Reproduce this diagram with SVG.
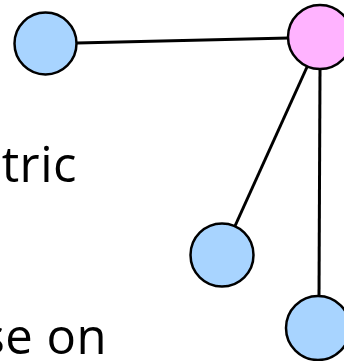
<svg xmlns="http://www.w3.org/2000/svg" width="344" height="361" viewBox="0 0 344 361">
<style>
.node{stroke:#000;stroke-width:2.5}
.blue{fill:#A8D4FF}
.pink{fill:#FFB3FF}
.edge{stroke:#000;stroke-width:3;fill:none}
.lbl{font-family:"Open Sans",sans-serif;font-size:49px;fill:#000;letter-spacing:0.5px}
</style>
<rect width="344" height="361" fill="#fff"/>
<g id="connectors">
<line class="edge" x1="77" y1="43" x2="289" y2="38"/>
<line class="edge" x1="307" y1="67" x2="235" y2="226"/>
<line class="edge" x1="320" y1="69" x2="319" y2="296"/>
</g>
<g id="node-a"><circle class="node blue" cx="45.5" cy="43.5" r="31"/></g>
<g id="node-hub"><circle class="node pink" cx="320" cy="37" r="32"/></g>
<g id="node-b"><circle class="node blue" cx="222" cy="255" r="31.5"/></g>
<g id="node-c"><circle class="node blue" cx="318" cy="328" r="32"/></g>
<text class="lbl" x="77" y="182" text-anchor="end">tric</text>
<text class="lbl" x="107" y="354" text-anchor="end">se on</text>
</svg>
